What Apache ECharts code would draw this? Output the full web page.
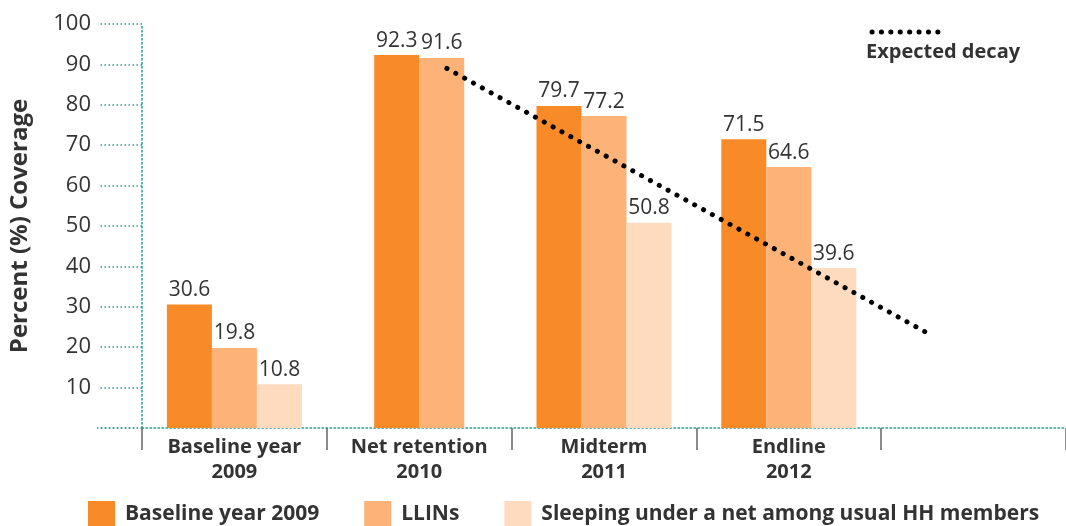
<!DOCTYPE html>
<html>
<head>
<meta charset="utf-8">
<script src="https://cdn.jsdelivr.net/npm/echarts@6/dist/echarts.min.js"></script>
<style>
  html, body { margin: 0; padding: 0; background: #fff; }
  #chart { width: 1066px; height: 526px; }
</style>
</head>
<body>
<div id="chart"></div>
<script>
// data
const categories = ['Baseline year\n2009', 'Net retention\n2010', 'Midterm\n2011', 'Endline\n2012', '']
const baselineVals = [30.6, 92.3, 79.7, 71.5, null]
const llinVals = [19.8, 91.6, 77.2, 64.6, null]
const sleepingVals = [10.8, null, 50.8, 39.6, null]
const decayX = [1.65, 4.27] // position along the category axis (0..5)
const decayY = [89, 23]
const seriesNames = ['Baseline year 2009', 'LLINs', 'Sleeping under a net among usual HH members']
const colors = ['#F98A28', '#FDB277', '#FEDBBE']

const NET = 1 // the group drawn with only two bars
const FONT = '"Open Sans", "Noto Sans", sans-serif'

const chart = echarts.init(document.getElementById('chart'))

const labelStyle = {
  show: true,
  position: 'top',
  distance: 4,
  color: '#333',
  fontSize: 21,
  fontFamily: FONT,
}

function mainData(vals) {
  return vals.map((v, i) => (i === NET ? null : v))
}
function netData(vals) {
  return vals.map((v, i) => (i === NET ? v : null))
}

const option = {
  animation: false,
  textStyle: { fontFamily: FONT },
  grid: { left: 138, right: 0, top: 24, bottom: 98 },
  legend: {
    data: seriesNames,
    left: 88,
    top: 501,
    padding: 0,
    itemWidth: 27,
    itemHeight: 27,
    itemGap: 45,
    icon: 'rect',
    textStyle: { color: '#333', fontSize: 21, fontWeight: 'bold', fontFamily: FONT, padding: [0, 0, 0, 5] },
  },
  xAxis: [
    {
      type: 'category',
      data: categories,
      axisLine: { lineStyle: { color: '#2A9D8F', type: [1.5, 2.5], width: 1.5 } },
      axisTick: { show: true, length: 22, lineStyle: { color: '#666', width: 1.5 } },
      axisLabel: {
        color: '#333',
        fontSize: 20,
        fontWeight: 'bold',
        lineHeight: 25,
        margin: 7,
        fontFamily: FONT,
      },
    },
    {
      type: 'category',
      data: categories,
      show: false,
    },
    {
      type: 'value',
      min: 0,
      max: 5,
      show: false,
    },
  ],
  yAxis: {
    type: 'value',
    min: 0,
    max: 100,
    interval: 10,
    name: 'Percent (%) Coverage',
    nameLocation: 'middle',
    nameGap: 110,
    nameTextStyle: { color: '#333', fontSize: 24, fontWeight: 'bold', fontFamily: FONT },
    axisLine: { show: true, lineStyle: { color: '#2A9D8F', type: [1.5, 2.5], width: 1.5 } },
    axisTick: { show: true, length: 42, lineStyle: { color: '#2A9D8F', type: [1.5, 2.5], width: 1.5 } },
    splitLine: { show: false },
    axisLabel: {
      color: '#333',
      fontSize: 22,
      margin: 51,
      fontFamily: FONT,
      formatter: (v) => (v === 0 ? '' : v),
    },
  },
  series: [
    {
      name: seriesNames[0],
      type: 'bar',
      xAxisIndex: 0,
      data: mainData(baselineVals),
      barWidth: 45,
      barGap: '0%',
      itemStyle: { color: colors[0] },
      label: labelStyle,
    },
    {
      name: seriesNames[1],
      type: 'bar',
      xAxisIndex: 0,
      data: mainData(llinVals),
      barWidth: 45,
      barGap: '0%',
      itemStyle: { color: colors[1] },
      label: labelStyle,
    },
    {
      name: seriesNames[2],
      type: 'bar',
      xAxisIndex: 0,
      data: sleepingVals,
      barWidth: 45,
      barGap: '0%',
      itemStyle: { color: colors[2] },
      label: labelStyle,
    },
    // net retention group only has two bars, centred on its own
    {
      name: seriesNames[0],
      type: 'bar',
      xAxisIndex: 1,
      data: netData(baselineVals),
      barWidth: 45,
      barGap: '0%',
      itemStyle: { color: colors[0] },
      label: labelStyle,
    },
    {
      name: seriesNames[1],
      type: 'bar',
      xAxisIndex: 1,
      data: netData(llinVals),
      barWidth: 45,
      barGap: '0%',
      itemStyle: { color: colors[1] },
      label: labelStyle,
    },
    {
      name: 'Expected decay',
      type: 'line',
      xAxisIndex: 2,
      data: decayX.map((x, i) => [x, decayY[i]]),
      symbol: 'none',
      z: 5,
      lineStyle: { color: '#000', width: 5, type: [0.1, 10], cap: 'round' },
    },
  ],
  graphic: [
    // key for the expected decay line
    {
      type: 'line',
      shape: { x1: 872, y1: 32, x2: 947, y2: 32 },
      style: { stroke: '#000', lineWidth: 5, lineDash: [0.1, 9.3], lineCap: 'round' },
    },
    {
      type: 'text',
      left: 866,
      top: 42,
      style: { text: 'Expected decay', fill: '#333', font: 'bold 20px ' + FONT },
    },
    // x axis line continues to the left of the y axis
    {
      type: 'line',
      shape: { x1: 97, y1: 428, x2: 138, y2: 428 },
      style: { stroke: '#2A9D8F', lineWidth: 1.5, lineDash: [1.5, 2.5] },
    },
  ],
}

chart.setOption(option)
</script>
</body>
</html>
